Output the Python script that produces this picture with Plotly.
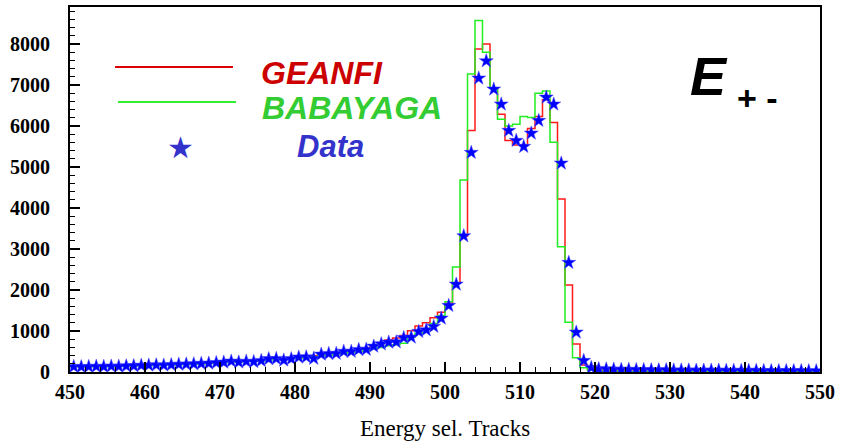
import plotly.graph_objects as go

# bin left edges (1 MeV bins from 450 to 550)
bin_edges = list(range(450, 551))
bin_centers = [e + 0.5 for e in bin_edges[:-1]]

data_vals = [
    130, 125, 130, 135, 130, 140, 135, 145, 150, 160,
    165, 170, 165, 175, 185, 190, 195, 205, 210, 225,
    236, 262, 240, 258, 250, 276, 320, 325, 285, 320,
    360, 365, 330, 430, 447, 450, 500, 500, 545, 550,
    625, 683, 724, 730, 835, 846, 984, 1024, 1110, 1309,
    1618, 2138, 3317, 5350, 7163, 7585, 6895, 6529, 5886, 5642,
    5496, 5821, 6130, 6699, 6529, 5090, 2667, 968, 277, 106,
    75, 70, 65, 60, 60, 55, 55, 50, 50, 50,
    45, 45, 45, 40, 40, 40, 40, 35, 35, 35,
    35, 35, 30, 30, 30, 30, 30, 30, 25, 25,
]

geanfi_vals = [
    135, 135, 135, 140, 140, 145, 145, 150, 155, 160,
    170, 175, 180, 185, 190, 200, 205, 215, 225, 235,
    250, 260, 265, 275, 285, 295, 310, 320, 335, 345,
    360, 375, 395, 420, 440, 465, 490, 515, 545, 580,
    660, 720, 780, 830, 890, 1008, 1122, 1200, 1320, 1455,
    1675, 2179, 3317, 5886, 7878, 8000, 6919, 6285, 5642, 5537,
    5537, 5935, 6228, 6640, 6081, 4220, 2122, 683, 171, 60,
    40, 35, 30, 28, 25, 25, 22, 20, 20, 20,
    18, 18, 17, 17, 16, 16, 15, 15, 15, 14,
    14, 14, 13, 13, 13, 12, 12, 12, 12, 12,
]

babayaga_vals = [
    125, 125, 125, 130, 130, 130, 135, 140, 145, 150,
    155, 160, 165, 170, 175, 185, 190, 195, 205, 215,
    225, 235, 245, 255, 265, 275, 290, 300, 310, 325,
    335, 350, 370, 390, 410, 425, 450, 475, 500, 520,
    570, 600, 640, 665, 700, 846, 943, 1049, 1180, 1370,
    1710, 2560, 4680, 7268, 8568, 7797, 6919, 6163, 6000, 6041,
    6228, 6203, 6797, 6854, 5605, 3057, 1211, 350, 106, 40,
    20, 18, 16, 15, 14, 13, 12, 12, 11, 11,
    10, 10, 10, 10, 9, 9, 9, 9, 9, 8,
    8, 8, 8, 8, 8, 8, 8, 8, 8, 8,
]

x_tick_vals = [450, 460, 470, 480, 490, 500, 510, 520, 530, 540, 550]
y_tick_vals = [0, 1000, 2000, 3000, 4000, 5000, 6000, 7000, 8000]

fig = go.Figure()

def step_trace(vals, color):
    xs = bin_edges
    ys = list(vals) + [vals[-1]]
    return go.Scatter(x=xs, y=ys, mode="lines", line=dict(color=color, width=1.5, shape="hv"),
                      showlegend=False, hoverinfo="skip")

fig.add_trace(step_trace(geanfi_vals, "#ff1a1a"))
fig.add_trace(step_trace(babayaga_vals, "#22ee22"))
fig.add_trace(go.Scatter(x=bin_centers, y=data_vals, mode="markers",
                         marker=dict(symbol="star", size=10.5, color="#0000ff",
                                     line=dict(width=0.5, color="#4444ff")),
                         showlegend=False))

W, H = 848, 445
L, R, T, B = 70, 28, 7, 73
pw, ph = W - L - R, H - T - B

def px(xp):
    return (xp - L) / pw

def py(yp):
    return (H - B - yp) / ph

annos = [
    dict(text="<b><i>GEANFI</i></b>", x=px(322), y=py(73), font=dict(family="Liberation Sans", size=32, color="#cc0000")),
    dict(text="<b><i>BABAYAGA</i></b>", x=px(352), y=py(108), font=dict(family="Liberation Sans", size=32, color="#33cc33")),
    dict(text="<b><i>Data</i></b>", x=px(330), y=py(146), font=dict(family="Liberation Sans", size=31, color="#3333cc")),
    dict(text="★", x=px(180), y=py(147), font=dict(family="DejaVu Sans", size=30, color="#3333cc")),
    dict(text="<b><i>E</i></b>", x=px(709), y=py(76), font=dict(family="Liberation Sans", size=54, color="black")),
    dict(text="<b>+ -</b>", x=px(757), y=py(98), font=dict(family="Liberation Sans", size=34, color="black")),
    dict(text="Energy sel. Tracks", x=px(445), y=py(428), font=dict(family="Liberation Serif", size=23, color="black")),
]
for a in annos:
    a.update(xref="paper", yref="paper", showarrow=False, xanchor="center", yanchor="middle")

shapes = [
    dict(type="line", xref="paper", yref="paper", x0=px(115), x1=px(233), y0=py(67), y1=py(67),
         line=dict(color="#dd0000", width=2)),
    dict(type="line", xref="paper", yref="paper", x0=px(118), x1=px(236), y0=py(102), y1=py(102),
         line=dict(color="#33ee33", width=2)),
]

tickfont = dict(family="Liberation Serif", size=20, color="black")

fig.update_layout(
    width=W, height=H,
    margin=dict(l=L, r=R, t=T, b=B, pad=0, autoexpand=False),
    paper_bgcolor="white", plot_bgcolor="white",
    annotations=annos, shapes=shapes,
    xaxis=dict(range=[450, 550], tickvals=x_tick_vals, ticktext=[f"<b>{v}</b>" for v in x_tick_vals],
               ticks="inside", ticklen=10, tickwidth=1.5, tickcolor="black",
               minor=dict(dtick=2, tick0=450, ticks="inside", ticklen=5, tickwidth=1, tickcolor="black"),
               showline=True, linecolor="black", linewidth=2, mirror=True, automargin=False,
               showgrid=False, zeroline=False, tickfont=tickfont, ticklabelstandoff=1),
    yaxis=dict(range=[0, 8900], tickvals=y_tick_vals, ticktext=[f"<b>{v}</b>" for v in y_tick_vals],
               ticks="inside", ticklen=10, tickwidth=1.5, tickcolor="black",
               minor=dict(dtick=200, tick0=0, ticks="inside", ticklen=5, tickwidth=1, tickcolor="black"),
               showline=True, linecolor="black", linewidth=2, mirror=True, automargin=False,
               showgrid=False, zeroline=False, tickfont=tickfont, ticklabelstandoff=14),
)

fig.write_html("out.html", config={"displayModeBar": False},
               post_script="document.body.style.margin='0px';document.body.style.overflow='hidden';")
